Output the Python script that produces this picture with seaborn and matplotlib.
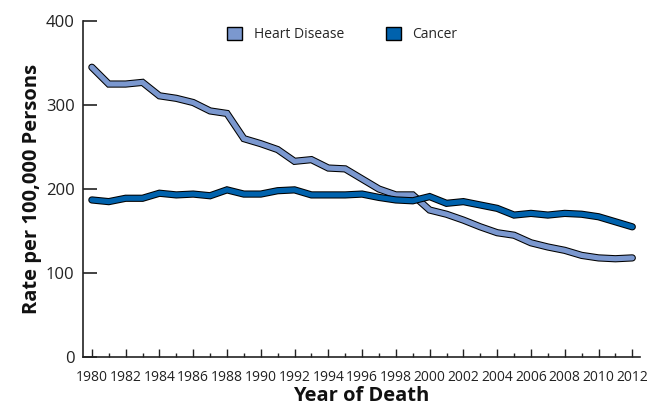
import pandas as pd
import numpy as np
import matplotlib
matplotlib.use("Agg")
import matplotlib.pyplot as plt
import matplotlib.patheffects as pe
from matplotlib.patches import Patch
from matplotlib.ticker import MultipleLocator
import seaborn as sns

# data
years = list(range(1980, 2013))
heart_disease = [345, 325, 325, 327, 311, 308, 303, 293, 290, 260, 254, 247, 233,
                 235, 225, 224, 212, 200, 193, 193, 175, 170, 163, 155, 148, 145,
                 136, 131, 127, 121, 118, 117, 118]
cancer = [187, 185, 189, 189, 195, 193, 194, 192, 199, 194, 194, 198, 199,
          193, 193, 193, 194, 190, 187, 186, 191, 183, 185, 181, 177, 169,
          171, 169, 171, 170, 167, 161, 155]
series_names = ["Heart Disease", "Cancer"]
series_colors = ["#7b98cf", "#0062ad"]

df = pd.DataFrame({
    "year": years * 2,
    "rate": heart_disease + cancer,
    "cause": [series_names[0]] * len(years) + [series_names[1]] * len(years),
})

sns.set_style("white")
plt.rcParams["font.family"] = ["Open Sans", "DejaVu Sans"]

fig = plt.figure(figsize=(6.58, 4.05), dpi=100)
ax = fig.add_axes([0.126, 0.1185, 0.847, 0.8295])

sns.lineplot(data=df, x="year", y="rate", hue="cause", hue_order=series_names,
             palette=series_colors, linewidth=3.7, legend=False, ax=ax)

# black outline around the thick lines
for line in ax.get_lines():
    line.set_path_effects([pe.Stroke(linewidth=5.2, foreground="black"), pe.Normal()])
    line.set_solid_joinstyle("miter")

ax.set_xlim(1979.47, 2012.47)
ax.set_ylim(0, 400)
ax.set_xticks(range(1980, 2013, 2))
ax.xaxis.set_minor_locator(MultipleLocator(1))
ax.set_yticks([0, 100, 200, 300, 400])

for s in ["top", "right"]:
    ax.spines[s].set_visible(False)
for s in ["left", "bottom"]:
    ax.spines[s].set_color("#222222")
    ax.spines[s].set_linewidth(1.2)

ax.tick_params(axis="y", direction="in", length=10, width=1.2, color="#222222",
               labelsize=12, labelcolor="#222222", pad=6, left=True)
ax.tick_params(axis="x", which="major", direction="in", length=6, width=1.0,
               color="#222222", labelsize=10, labelcolor="#222222", pad=9, bottom=True)
ax.tick_params(axis="x", which="minor", direction="in", length=3, width=1.0,
               color="#222222", bottom=True)

ax.set_xlabel("Year of Death", fontsize=14.5, fontweight="bold", color="#111111", labelpad=1)
ax.set_ylabel("Rate per 100,000 Persons", fontsize=14.5, fontweight="bold", color="#111111", labelpad=3)

handles = [Patch(facecolor=c, edgecolor="black", linewidth=1.0, label=n)
           for n, c in zip(series_names, series_colors)]
ax.legend(handles=handles, loc="upper center", bbox_to_anchor=(0.465, 1.02), ncol=2,
          frameon=False, fontsize=10, handlelength=1.1, handleheight=1.1,
          columnspacing=3.0, handletextpad=0.8)

fig.savefig("out.png", dpi=100)
